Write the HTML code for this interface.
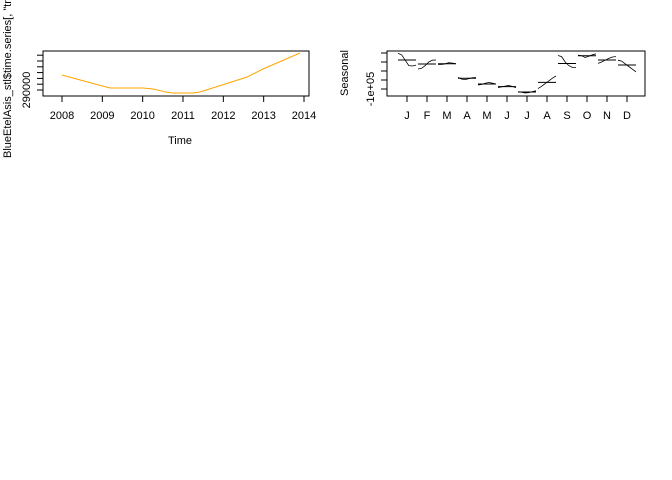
<!DOCTYPE html>
<html><head><meta charset="utf-8"><style>
html,body{margin:0;padding:0;background:#fff;}
svg{display:block;font-family:"Liberation Sans",Arial,sans-serif;}
</style></head><body>
<svg id="c" width="672" height="480" viewBox="0 0 672 480">
<rect width="672" height="480" fill="#fff"/>
<g id="left"></g>
<g id="right"></g>
</svg>
<script>
// Trend data
const trendTimes = [2008.0, 2009.0, 2009.2, 2010.0, 2010.26, 2010.6, 2010.75, 2011.25, 2011.42, 2011.97, 2012.59, 2012.98, 2013.9];
const trendValues = [315900, 296900, 293400, 293400, 291700, 286000, 284800, 284800, 286600, 298600, 312400, 326200, 353800];
const trendYTicks = [290000, 300000, 310000, 320000, 330000, 340000, 350000];
const trendXTicks = [2008, 2009, 2010, 2011, 2012, 2013, 2014];
// Seasonal data
const months = ["J","F","M","A","M","J","J","A","S","O","N","D"];
const monthMeans = [61000, 39000, 40000, -40000, -72000, -87000, -117000, -63000, 42000, 85000, 61000, 33000];
const monthSeries = [
 [98000,90000,60000,30000,28000,33000],
 [11000,15000,30000,50000,60000,61000],
 [36000,36000,40000,46000,44000,40000],
 [-35000,-45000,-48000,-42000,-38000,-36000],
 [-78000,-75000,-68000,-64000,-68000,-72000],
 [-92000,-88000,-84000,-80000,-86000,-92000],
 [-115000,-118000,-122000,-120000,-115000,-110000],
 [-98000,-85000,-70000,-55000,-40000,-28000],
 [86000,80000,50000,30000,20000,20000],
 [88000,85000,75000,82000,90000,95000],
 [42000,50000,60000,70000,78000,80000],
 [60000,55000,40000,25000,10000,-5000]
];
const seasonalYTicks = [-100000, -50000, 0, 50000, 100000];

const NS = "http://www.w3.org/2000/svg";
function mk(parent, tag, attrs, text){
  const e = document.createElementNS(NS, tag);
  for (const k in attrs) e.setAttribute(k, attrs[k]);
  if (text !== undefined) e.textContent = text;
  parent.appendChild(e);
  return e;
}
// ----- Left panel -----
const L = document.getElementById('left');
const lx = t => 62 + (t - 2008) * (304 - 62) / 6;
const ly = v => 90 - (v - 290000) / 10000 * 5.8;
let b = mk(L,'rect',{x:43,y:51,width:266,height:45,fill:'none',stroke:'#000','stroke-width':1});


let pts = trendTimes.map((t,i)=>lx(t).toFixed(1)+','+ly(trendValues[i]).toFixed(1)).join(' ');
let pl = mk(L,'polyline',{points:pts,fill:'none',stroke:'#FFA500','stroke-width':1});


trendYTicks.forEach(v=>{
  const y = ly(v);
  if (y < 51) return;
  const t = mk(L,'line',{x1:37,x2:43,y1:y,y2:y,stroke:'#000'});
  
  
});
let yl = mk(L,'text',{x:0,y:0,'font-size':11,'text-anchor':'middle',transform:`translate(30,${ly(290000)}) rotate(-90)`},'290000');


trendXTicks.forEach(t=>{
  const x = lx(t);
  const tk = mk(L,'line',{x1:x,x2:x,y1:96,y2:102,stroke:'#000'});
  
  
  const lb = mk(L,'text',{x:x,y:119,'font-size':11,'text-anchor':'middle'},String(t));
  
  
});
let xt = mk(L,'text',{x:180,y:144,'font-size':11,'text-anchor':'middle'},'Time');


let yt = mk(L,'text',{x:0,y:0,'font-size':11,'text-anchor':'start',transform:'translate(11,158) rotate(-90)'},'BlueEtelAsis_stl$time.series[, "trend"]');


// ----- Right panel -----
const R = document.getElementById('right');
const rx = i => 407 + i * 20;
const ry = v => 71 - v / 50000 * 9;
let rb = mk(R,'rect',{x:387,y:51,width:258,height:45,fill:'none',stroke:'#000','stroke-width':1});


seasonalYTicks.forEach(v=>{
  const y = ry(v);
  const t = mk(R,'line',{x1:381,x2:387,y1:y,y2:y,stroke:'#000'});
  
  
});
let sl = mk(R,'text',{x:0,y:0,'font-size':11,'text-anchor':'middle',transform:`translate(374,${ry(-100000)}) rotate(-90)`},'-1e+05');


let st = mk(R,'text',{x:0,y:0,'font-size':11,'text-anchor':'middle',transform:'translate(348,73) rotate(-90)'},'Seasonal');


months.forEach((m,i)=>{
  const cx = rx(i);
  const mean = mk(R,'line',{x1:cx-9,x2:cx+9,y1:ry(monthMeans[i]),y2:ry(monthMeans[i]),stroke:'#000'});
  
  
  const s = monthSeries[i];
  const p = s.map((v,j)=>(cx-9+j*18/(s.length-1)).toFixed(1)+','+ry(v).toFixed(1)).join(' ');
  const sp = mk(R,'polyline',{points:p,fill:'none',stroke:'#000','stroke-width':0.8});
  
  
  const tk = mk(R,'line',{x1:cx,x2:cx,y1:96,y2:102,stroke:'#000'});
  
  
  const lb = mk(R,'text',{x:cx,y:119,'font-size':11,'text-anchor':'middle'},m);
  
  
});
</script>
</body></html>
